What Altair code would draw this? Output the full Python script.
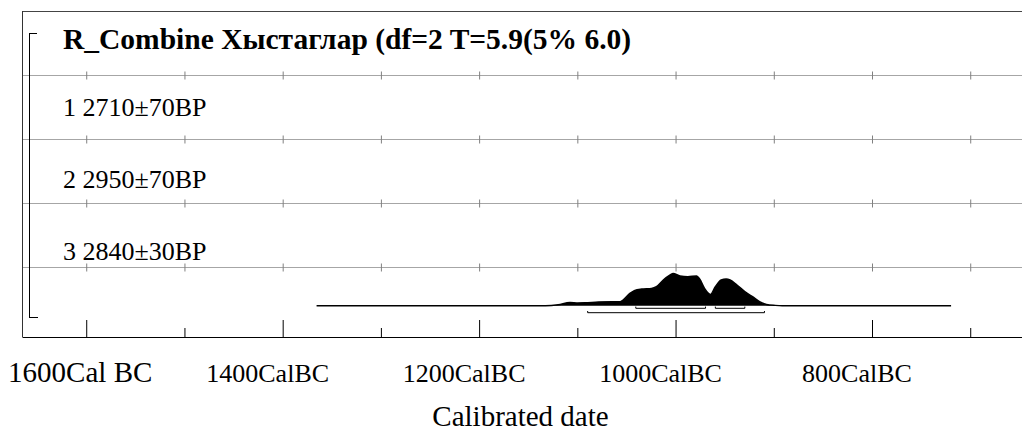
import altair as alt
import pandas as pd

# ---------------- data ----------------
TITLE = "R_Combine Хыстаглар (df=2 T=5.9(5% 6.0)"
SAMPLE_LABELS = ["1 2710±70BP", "2 2950±70BP", "3 2840±30BP"]
AXIS_TITLE = "Calibrated date"

# combined calibrated probability distribution (relative probability)
YEARS = [-1366, -1150, -1133, -1120, -1108, -1100, -1093, -1079, -1065, -1057,
         -1054, -1047, -1042, -1035, -1025, -1020, -1013, -1006, -1003, -996,
         -988, -979, -976, -971, -965, -960, -954, -949, -945, -938,
         -930, -921, -915, -908, -899, -892, -720]
PROB = [0, 0, 0, 0.03, 0.10, 0.085, 0.09, 0.115, 0.125, 0.125,
        0.175, 0.38, 0.475, 0.515, 0.535, 0.59, 0.795, 0.95, 1.0, 0.92,
        0.90, 0.92, 0.825, 0.535, 0.35, 0.59, 0.795, 0.825, 0.795, 0.64,
        0.435, 0.255, 0.125, 0.04, 0.01, 0, 0]

# highest posterior density ranges
RANGE_START = [-1041, -960, -1090]
RANGE_END = [-970, -930, -910]
RANGE_LEVEL = ["68.2%", "68.2%", "95.4%"]

MAJOR_YEARS = [-1600, -1400, -1200, -1000, -800]
MINOR_YEARS = [-1500, -1300, -1100, -900, -700]
TICK_LABELS = ["1600Cal BC", "1400CalBC", "1200CalBC", "1000CalBC", "800CalBC"]

# ---------------- layout (pixels; heights measured up from the x axis) ----------------
W, H = 1000, 326
PX_PER_YEAR = 0.98222
X0 = -1665.9
X_DOMAIN = [X0, X0 + W / PX_PER_YEAR]
GRID_H = [261.5, 197.5, 133.5, 69.5]          # separators between rows
CROSS = 4                                      # half length of grid cross ticks
BASE_H = 31.3                                  # baseline of the distribution
PEAK_H = 32.3                                  # height of the highest probability
RANGE_H = {"68.2%": 28.7, "95.4%": 24.3}
RANGE_TICK = 1.7
LABEL_H = [221, 149, 77]                       # baselines of the row labels
MAJOR_LEN, MINOR_LEN = 17, 9
SERIF = "Liberation Serif"

xscale = alt.Scale(domain=X_DOMAIN, nice=False, zero=False)
yscale = alt.Scale(domain=[0, H], nice=False, zero=False)

label_expr = " : ".join(
    f"datum.value == {y} ? '{t}'" for y, t in zip(MAJOR_YEARS, TICK_LABELS)
) + " : ''"

xaxis = alt.Axis(
    values=MAJOR_YEARS,
    labelExpr=label_expr,
    grid=False,
    ticks=False,
    tickSize=0,
    domain=True,
    domainColor="#000000",
    domainWidth=1,
    labelFont=SERIF,
    labelColor="#000000",
    labelFontSize={"condition": {"test": f"datum.value == {MAJOR_YEARS[0]}", "value": 29}, "value": 26},
    labelOffset={"condition": {"test": f"datum.value == {MAJOR_YEARS[0]}", "value": -7}, "value": -16},
    labelBaseline="alphabetic",
    labelPadding=44,
    labelFlush=False,
    labelOverlap=False,
    title=AXIS_TITLE,
    titleFont=SERIF,
    titleFontSize=29,
    titleFontWeight="normal",
    titleColor="#000000",
    titleBaseline="alphabetic",
    titleX=498,
    titleY=88,
)


def X(field):
    return alt.X(field, type="quantitative", scale=xscale, axis=xaxis)


def Y(field):
    return alt.Y(field, type="quantitative", scale=yscale, axis=None)


# ---- grid separators with cross ticks ----
grid_df = pd.DataFrame({"h": GRID_H})
grid = alt.Chart(grid_df).mark_rule(color="#a6a6a6", strokeWidth=1.2).encode(
    y=Y("h"), x=alt.value(0), x2=alt.value(W)
)
cross_df = pd.DataFrame([(yr, h) for h in GRID_H for yr in sorted(MAJOR_YEARS + MINOR_YEARS)],
                        columns=["year", "h"])
cross = alt.Chart(cross_df).transform_calculate(
    lo=f"datum.h - {CROSS}", hi=f"datum.h + {CROSS}"
).mark_rule(color="#808080", strokeWidth=1).encode(
    x=X("year"), y=Y("lo"), y2=alt.Y2("hi:Q")
)

# ---- bottom axis ticks pointing up ----
ticks_df = pd.DataFrame({
    "year": MAJOR_YEARS + MINOR_YEARS,
    "len": [MAJOR_LEN] * len(MAJOR_YEARS) + [MINOR_LEN] * len(MINOR_YEARS),
})
ticks = alt.Chart(ticks_df).transform_calculate(zero="0").mark_rule(
    color="#000000", strokeWidth=1
).encode(x=X("year"), y=Y("len"), y2=alt.Y2("zero:Q"))

# ---- frame: top border, left border, group bracket ----
top_border = alt.Chart(grid_df).mark_rule(color="#444444", strokeWidth=1.2).encode(
    x=alt.value(0), x2=alt.value(W), y=alt.value(0.5)
)
left_border = alt.Chart(grid_df).mark_rule(color="#333333", strokeWidth=1).encode(
    x=alt.value(0.5), y=alt.value(0), y2=alt.value(H)
)
bracket_v = alt.Chart(grid_df).mark_rule(color="#000000", strokeWidth=1).encode(
    x=alt.value(7.5), y=alt.value(22.5), y2=alt.value(306.5)
)
bracket_t = alt.Chart(grid_df).mark_rule(color="#000000", strokeWidth=1).encode(
    x=alt.value(7.5), x2=alt.value(15), y=alt.value(22.5)
)
bracket_b = alt.Chart(grid_df).mark_rule(color="#000000", strokeWidth=1).encode(
    x=alt.value(7.5), x2=alt.value(16), y=alt.value(306.5)
)

# ---- distribution ----
dist_df = pd.DataFrame({"year": YEARS, "prob": PROB})
dist_base = alt.Chart(dist_df).transform_calculate(
    h=f"{BASE_H} + datum.prob * {PEAK_H}", b=f"{BASE_H}"
)
area = dist_base.mark_area(color="#000000", interpolate="monotone").encode(
    x=X("year"), y=Y("h"), y2=alt.Y2("b:Q")
)
outline = dist_base.mark_line(color="#000000", strokeWidth=1.5, interpolate="monotone").encode(
    x=X("year"), y=Y("h")
)

# ---- ranges ----
range_df = pd.DataFrame({"start": RANGE_START, "end": RANGE_END, "level": RANGE_LEVEL})
range_base = alt.Chart(range_df).transform_calculate(
    h=" : ".join(f"datum.level == '{k}' ? {v}" for k, v in RANGE_H.items()) + " : 0"
).transform_calculate(t=f"datum.h + {RANGE_TICK}")
range_line = range_base.mark_rule(color="#000000", strokeWidth=1).encode(
    x=X("start"), x2=alt.X2("end:Q"), y=Y("h")
)
range_s = range_base.mark_rule(color="#000000", strokeWidth=1).encode(
    x=X("start"), y=Y("h"), y2=alt.Y2("t:Q")
)
range_e = range_base.mark_rule(color="#000000", strokeWidth=1).encode(
    x=X("end"), y=Y("h"), y2=alt.Y2("t:Q")
)

# ---- texts ----
title = alt.Chart(pd.DataFrame({"t": [TITLE]})).mark_text(
    align="left", baseline="alphabetic", font=SERIF, fontSize=29.5, fontWeight="bold", color="#000000"
).encode(x=alt.value(41), y=alt.value(38), text="t:N")

labels_df = pd.DataFrame({"label": SAMPLE_LABELS, "h": LABEL_H})
labels = alt.Chart(labels_df).mark_text(
    align="left", baseline="alphabetic", font=SERIF, fontSize=26, color="#000000"
).encode(x=alt.value(41), y=Y("h"), text="label:N")

chart = alt.layer(
    grid, cross, ticks, top_border, left_border, bracket_v, bracket_t, bracket_b,
    area, outline, range_line, range_s, range_e, title, labels
).properties(
    width=W, height=H,
    padding={"left": 14, "top": 3, "right": 0, "bottom": 94},
    autosize=alt.AutoSizeParams(type="none"),
    background="#ffffff",
).configure_view(stroke=None)

chart.save("out.html", embed_options={"renderer": "svg", "actions": False})
